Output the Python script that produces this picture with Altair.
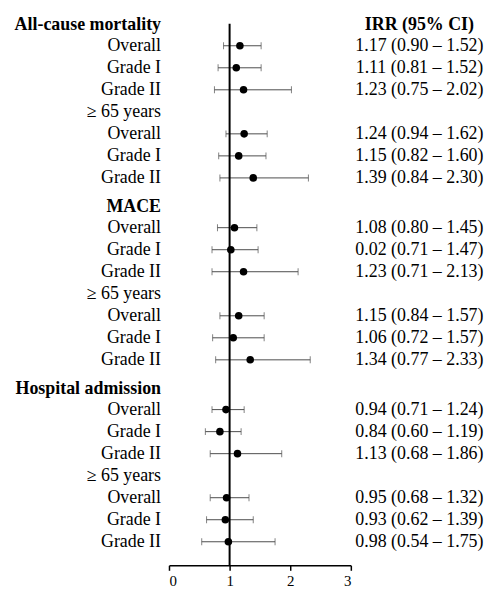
import altair as alt
import pandas as pd

# ---------------- data ----------------
sections = ["All-cause mortality", "MACE", "Hospital admission"]
subgroups = ["Overall", "Grade I", "Grade II", "≥ 65 years", "Overall", "Grade I", "Grade II"]

irr_acm = [1.17, 1.11, 1.23, None, 1.24, 1.15, 1.39]
lo_acm = [0.90, 0.81, 0.75, None, 0.94, 0.82, 0.84]
hi_acm = [1.52, 1.52, 2.02, None, 1.62, 1.60, 2.30]

irr_mace = [1.08, 1.02, 1.23, None, 1.15, 1.06, 1.34]
lo_mace = [0.80, 0.71, 0.71, None, 0.84, 0.72, 0.77]
hi_mace = [1.45, 1.47, 2.13, None, 1.57, 1.57, 2.33]

irr_hosp = [0.94, 0.84, 1.13, None, 0.95, 0.93, 0.98]
lo_hosp = [0.71, 0.60, 0.68, None, 0.68, 0.62, 0.54]
hi_hosp = [1.24, 1.19, 1.86, None, 1.32, 1.39, 1.75]

text_acm = ["1.17 (0.90 – 1.52)", "1.11 (0.81 – 1.52)", "1.23 (0.75 – 2.02)", "",
            "1.24 (0.94 – 1.62)", "1.15 (0.82 – 1.60)", "1.39 (0.84 – 2.30)"]
text_mace = ["1.08 (0.80 – 1.45)", "0.02 (0.71 – 1.47)", "1.23 (0.71 – 2.13)", "",
             "1.15 (0.84 – 1.57)", "1.06 (0.72 – 1.57)", "1.34 (0.77 – 2.33)"]
text_hosp = ["0.94 (0.71 – 1.24)", "0.84 (0.60 – 1.19)", "1.13 (0.68 – 1.86)", "",
             "0.95 (0.68 – 1.32)", "0.93 (0.62 – 1.39)", "0.98 (0.54 – 1.75)"]

column_title = "IRR (95% CI)"
x_ticks = [0, 1, 2, 3]

# ---------------- table ----------------
irr_all = [irr_acm, irr_mace, irr_hosp]
lo_all = [lo_acm, lo_mace, lo_hosp]
hi_all = [hi_acm, hi_mace, hi_hosp]
txt_all = [text_acm, text_mace, text_hosp]

SECTION_STEP = 8.26
rows = []
for s, sec in enumerate(sections):
    base = s * SECTION_STEP
    rows.append(dict(label=sec, header=True, pos=base, irr=None, lo=None, hi=None,
                     txt=column_title if s == 0 else ""))
    for k, sub in enumerate(subgroups):
        rows.append(dict(label=sub, header=False, pos=base + 0.95 + k,
                         irr=irr_all[s][k], lo=lo_all[s][k], hi=hi_all[s][k],
                         txt=txt_all[s][k]))
df = pd.DataFrame(rows)

FONT = "Liberation Serif"
H = 545
yscale = alt.Scale(domain=[-0.05, 24.54], reverse=True, nice=False, zero=False)
Y = alt.Y("pos:Q", scale=yscale, axis=None)

# ---------------- left labels ----------------
left_base = alt.Chart(df).encode(y=Y, text="label:N", x=alt.value(154))
left = alt.layer(
    left_base.transform_filter("datum.header").mark_text(
        align="right", baseline="middle", font=FONT, fontSize=18,
        fontWeight="bold", color="black"),
    left_base.transform_filter("!datum.header").mark_text(
        align="right", baseline="middle", font=FONT, fontSize=18, color="black"),
).properties(width=154, height=H)

# ---------------- forest plot ----------------
xscale = alt.Scale(domain=[0, 3], nice=False, zero=False)
xaxis = alt.Axis(values=x_ticks, format="d", title=None, grid=False,
                 domainColor="black", domainWidth=1.5, tickColor="black",
                 tickWidth=1.5, tickSize=5, labelFont=FONT, labelFontSize=15,
                 labelColor="black", labelPadding=3)

pts = alt.Chart(df).transform_filter("isValid(datum.irr)")

ref = alt.Chart(pd.DataFrame({"v": [1]})).mark_rule(
    color="black", strokeWidth=2).encode(x=alt.X("v:Q", scale=xscale, axis=xaxis))

bars = pts.mark_rule(color="#4d4d4d", strokeWidth=1).encode(
    x=alt.X("lo:Q", scale=xscale, axis=xaxis), x2="hi:Q", y=Y)

caps = pts.transform_fold(["lo", "hi"], as_=["k", "v"]).mark_tick(
    orient="vertical", size=7, thickness=1, color="#4d4d4d").encode(
    x=alt.X("v:Q", scale=xscale, axis=xaxis), y=Y)

dots = pts.mark_circle(size=58, color="black", opacity=1).encode(
    x=alt.X("irr:Q", scale=xscale, axis=xaxis), y=Y)

mid = alt.layer(bars, caps, ref, dots).properties(width=183, height=H)

# ---------------- right column ----------------
right_base = alt.Chart(df).encode(y=Y, text="txt:N", x=alt.value(61))
right = alt.layer(
    right_base.transform_filter("datum.header").mark_text(
        align="center", baseline="middle", font=FONT, fontSize=18,
        fontWeight="bold", color="black"),
    right_base.transform_filter("!datum.header").mark_text(
        align="center", baseline="middle", font=FONT, fontSize=18, color="black"),
).properties(width=122, height=H)

chart = alt.hconcat(left, mid, right, spacing=8, bounds="flush").properties(
    padding={"top": 6, "left": 0, "right": 0, "bottom": 0}
).configure_view(stroke=None)

chart.save("out.html", embed_options={"renderer": "svg", "actions": False})
